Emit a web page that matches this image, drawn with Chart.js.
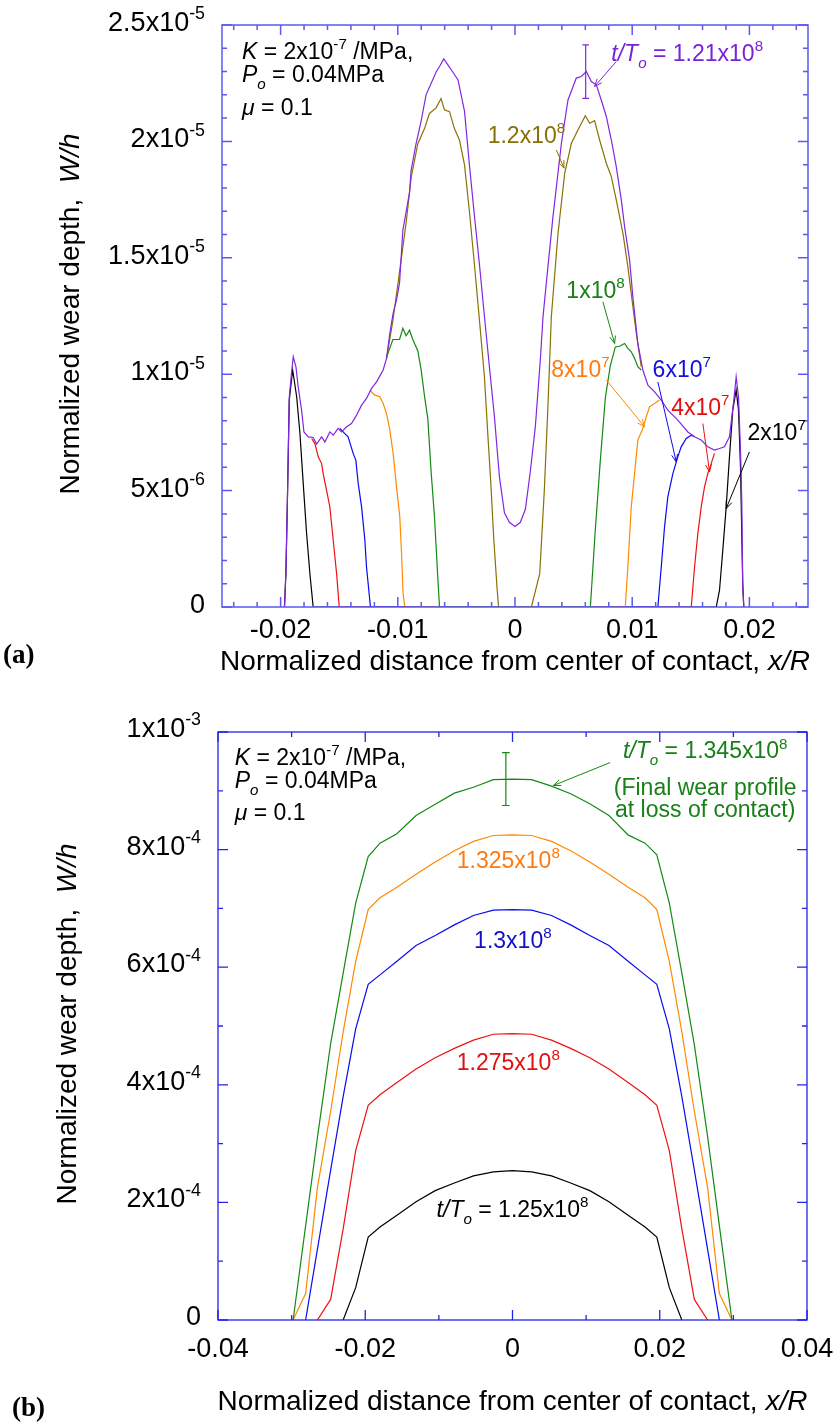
<!DOCTYPE html>
<html>
<head>
<meta charset="utf-8">
<script src="https://cdn.jsdelivr.net/npm/chart.js@4.4.1/dist/chart.umd.min.js"></script>
<style>
  html, body { margin: 0; padding: 0; background: #fff; }
  #wrap { position: relative; width: 835px; height: 1424px; }
  .box { position: absolute; left: 0; width: 835px; }
</style>
</head>
<body>
<div id="wrap">
  <div class="box" style="top:0;height:700px"><canvas id="chartA" width="835" height="700"></canvas></div>
  <div class="box" style="top:700px;height:724px"><canvas id="chartB" width="835" height="724"></canvas></div>
</div>
<script>
// ---------- panel (a): wear depth W/h (in 1e-6) vs x/R ----------
const aXTicks = [-0.02, -0.01, 0, 0.01, 0.02];
const aXTickLabels = ['-0.02', '-0.01', '0', '0.01', '0.02'];
const aYTicks = [0, 5, 10, 15, 20, 25];
const aYTickLabels = ['0', '5x10^-6', '1x10^-5', '1.5x10^-5', '2x10^-5', '2.5x10^-5'];

// t/To = 1.21e8
const aPurpleX = [-0.01967,-0.01955,-0.01943,-0.01926,-0.01906,-0.01892,-0.01869,-0.0185,-0.01821,-0.01801,-0.01764,-0.01722,-0.01693,-0.0165,-0.01622,-0.0158,-0.01551,-0.01509,-0.0148,-0.01437,-0.01395,-0.01352,-0.01309,-0.01267,-0.01224,-0.01181,-0.01125,-0.01096,-0.01068,-0.0104,-0.01011,-0.00985,-0.00957,-0.009,-0.00886,-0.00844,-0.00801,-0.00759,-0.00716,-0.00673,-0.00644,-0.00608,-0.00574,-0.00531,-0.00486,-0.00431,-0.00389,-0.00346,-0.00303,-0.00261,-0.00218,-0.00176,-0.00133,-0.0009,-0.00048,0,0.00046,0.00089,0.00131,0.00174,0.00217,0.00239,0.00281,0.00324,0.00396,0.00452,0.00523,0.00566,0.00609,0.00651,0.00694,0.00736,0.00779,0.00822,0.00864,0.00907,0.00935,0.00978,0.01006,0.01048,0.01091,0.01134,0.01191,0.01248,0.01304,0.01389,0.01475,0.01532,0.01589,0.01645,0.01702,0.01745,0.01787,0.0183,0.01867,0.01887,0.01907,0.01924,0.01935,0.01943,0.01952];
const aPurpleY = [0,1.43,4.3,9.03,10.1,10.75,10.32,9.46,8.46,7.52,7.31,7.28,7.0,7.31,7.09,7.52,7.38,7.67,7.52,7.74,7.88,8.24,8.67,8.96,9.39,9.67,10.18,10.68,11.75,12.61,13.19,13.92,16.18,17.8,18.77,19.9,20.87,22.0,22.49,22.98,23.22,23.54,23.3,22.98,22.64,21.3,19.0,16.8,14.7,12.5,10.3,8.2,5.6,4.05,3.64,3.46,3.64,4.21,5.83,7.77,10.68,12.47,14.62,16.77,19.92,21.78,22.72,22.79,23.0,22.57,22.43,21.78,21.07,20.06,18.92,17.49,16.34,14.9,13.3,11.32,10.18,9.53,9.24,8.89,8.46,8.03,7.52,7.31,7.17,6.88,6.74,6.81,6.88,7.31,8.89,9.89,9.03,6.74,4.59,1.0,0];
// t/To = 1.2e8
const aOliveX = [-0.01096,-0.01085,-0.01042,-0.00972,-0.00929,-0.00886,-0.00829,-0.00772,-0.0073,-0.00673,-0.00631,-0.00602,-0.00559,-0.00517,-0.00474,-0.00431,-0.00389,-0.00346,-0.00303,-0.00261,-0.00233,-0.00205,-0.00182,-0.00153,-0.0014,0.0014,0.00211,0.0025,0.0028,0.0031,0.00367,0.00424,0.00481,0.00537,0.006,0.00637,0.00679,0.00722,0.00779,0.00822,0.00864,0.00921,0.00963,0.01006,0.01035,0.01077];
const aOliveY = [10.68,11.0,12.3,14.89,16.5,18.45,19.9,20.55,21.2,21.44,21.84,21.36,21.28,20.55,20.06,19.0,17.0,14.7,12.3,9.9,7.5,5.2,3.0,0.8,0,0,1.43,5.0,8.5,12.47,16.05,18.63,19.92,20.49,21.1,20.78,20.89,20.06,19.06,18.49,17.49,16.05,14.62,12.9,11.75,10.32];
// t/To = 1e8
const aGreenX = [-0.01099,-0.01042,-0.00985,-0.00957,-0.00929,-0.009,-0.00872,-0.00829,-0.00801,-0.00772,-0.00744,-0.00716,-0.00687,-0.00659,-0.00644,0.00643,0.00685,0.00728,0.00771,0.00813,0.00856,0.00892,0.00935,0.00963,0.00992,0.0102,0.01048,0.01077];
const aGreenY = [10.68,11.49,11.49,11.97,11.65,11.89,11.49,11.0,10.19,9.06,8.09,5.83,3.88,1.29,0,0,3.3,6.3,9.0,10.36,11.17,11.2,11.32,11.11,10.96,10.68,10.32,10.18];
// t/To = 8e7
const aOrangeX = [-0.01239,-0.01196,-0.01153,-0.01125,-0.01096,-0.01068,-0.0104,-0.01011,-0.00983,-0.00968,-0.00955,-0.0094,0.00941,0.00963,0.00992,0.0102,0.01048,0.01091,0.0112,0.01148,0.01191,0.01233];
const aOrangeY = [9.32,9.1,9.03,8.74,8.31,7.6,6.6,5.16,3.87,2.3,0.58,0,0,1.72,4.3,5.73,7.17,7.67,8.17,8.6,8.74,8.89];
// t/To = 6e7
const aBlueX = [-0.01494,-0.01452,-0.01424,-0.01381,-0.01358,-0.01338,-0.01309,-0.01281,-0.01267,-0.01239,-0.01233,0.01219,0.01248,0.01276,0.01304,0.01347,0.01389,0.01418,0.01461,0.01504,0.01532];
const aBlueY = [7.67,7.45,7.31,6.6,6.31,5.31,4.3,2.87,1.72,0.29,0,0,1.72,3.44,4.73,5.73,6.45,6.88,7.24,7.38,7.31];
// t/To = 4e7
const aRedX = [-0.01735,-0.01707,-0.01679,-0.0165,-0.01637,-0.01608,-0.0158,-0.01551,-0.01522,-0.015,0.01504,0.01532,0.0156,0.01589,0.01617,0.01645,0.01674,0.01702];
const aRedY = [7.24,7.02,6.45,6.16,5.73,5.02,4.3,2.87,1.43,0,0,1.72,3.15,4.3,5.16,5.73,6.16,6.6];
// t/To = 2e7
const aBlackX = [-0.01967,-0.01955,-0.01943,-0.01926,-0.01897,-0.01863,-0.01835,-0.01807,-0.01778,-0.0175,-0.01722,0.01717,0.01745,0.01773,0.01802,0.0183,0.01858,0.01887,0.01907,0.01924,0.01935,0.01943,0.01952];
const aBlackY = [0,1.43,4.3,8.89,10.18,9.03,7.45,5.31,3.15,1.43,0,0,0.72,2.44,4.3,6.45,8.46,9.32,8.46,6.02,3.15,1.0,0];
// error bar on the 1.21e8 curve
const aErrX = 0.00603, aErrLow = 21.85, aErrHigh = 24.15;

// ---------- panel (b): wear depth W/h (in 1e-4) vs x/R ----------
const bXTicks = [-0.04, -0.02, 0, 0.02, 0.04];
const bXTickLabels = ['-0.04', '-0.02', '0', '0.02', '0.04'];
const bYTicks = [0, 2, 4, 6, 8, 10];
const bYTickLabels = ['0', '2x10^-4', '4x10^-4', '6x10^-4', '8x10^-4', '1x10^-3'];

const bWideX = [-0.0298,-0.0281,-0.0265,-0.0247,-0.023,-0.0213,-0.0196,-0.018,-0.0157,-0.0131,-0.0105,-0.0079,-0.0053,-0.0026,0,0.0026,0.0053,0.0079,0.0105,0.0131,0.0157,0.018,0.0196,0.0213,0.023,0.0247,0.0265,0.0281,0.0298];
const bGreenY = [0,1.6,3.1,4.7,5.9,7.09,7.88,8.11,8.27,8.58,8.77,8.96,9.06,9.19,9.2,9.19,9.08,8.95,8.78,8.58,8.25,8.11,7.91,7.09,5.9,4.68,3.12,1.6,0];
const bOrangeY = [0,0.45,2.25,3.55,4.9,6.1,6.98,7.18,7.36,7.58,7.79,7.98,8.14,8.24,8.25,8.24,8.14,7.98,7.79,7.58,7.36,7.18,6.98,6.1,4.9,3.55,2.25,0.45,0];
const bBlueX = [-0.0281,-0.0265,-0.0247,-0.023,-0.0213,-0.0196,-0.018,-0.0157,-0.0131,-0.0105,-0.0079,-0.0053,-0.0026,0,0.0026,0.0053,0.0079,0.0105,0.0131,0.0157,0.018,0.0196,0.0213,0.023,0.0247,0.0265,0.0281];
const bBlueY = [0,1.2,2.55,3.8,4.95,5.71,5.87,6.1,6.37,6.54,6.72,6.88,6.97,6.98,6.97,6.88,6.72,6.54,6.37,6.1,5.87,5.71,4.95,3.8,2.55,1.2,0];
const bRedX = [-0.0265,-0.0247,-0.023,-0.0213,-0.0196,-0.018,-0.0157,-0.0131,-0.0105,-0.0079,-0.0053,-0.0026,0,0.0026,0.0053,0.0079,0.0105,0.0131,0.0157,0.018,0.0196,0.0213,0.023,0.0247,0.0265];
const bRedY = [0,0.35,1.55,2.88,3.65,3.83,4.04,4.27,4.46,4.62,4.76,4.86,4.87,4.86,4.76,4.62,4.46,4.27,4.04,3.83,3.65,2.88,1.55,0.35,0];
const bBlackX = [-0.023,-0.0213,-0.0196,-0.018,-0.0157,-0.0131,-0.0105,-0.0079,-0.0053,-0.0026,0,0.0026,0.0053,0.0079,0.0105,0.0131,0.0157,0.018,0.0196,0.0213,0.023];
const bBlackY = [0,0.55,1.41,1.58,1.78,2.01,2.2,2.33,2.45,2.52,2.54,2.52,2.45,2.33,2.2,2.01,1.78,1.58,1.41,0.55,0];
const bErrX = -0.0009, bErrLow = 8.75, bErrHigh = 9.65;

// ---------- drawing helpers ----------
const FONT = '"Liberation Sans", Arial, Helvetica, sans-serif';
const SUP = 0.66;
function font(size, it) { return (it ? 'italic ' : '') + size + 'px ' + FONT; }
function pts(xs, ys) { return xs.map((x, i) => ({ x: x, y: ys[i] })); }
function errPts(x, lo, hi, cap) {
  return [{ x: x - cap, y: hi }, { x: x + cap, y: hi }, { x: x, y: null },
          { x: x, y: hi }, { x: x, y: lo }, { x: x, y: null },
          { x: x - cap, y: lo }, { x: x + cap, y: lo }];
}
function sci(s) {
  const i = s.indexOf('^');
  return i < 0 ? [{ t: s }] : [{ t: s.slice(0, i) }, { t: s.slice(i + 1), sup: true }];
}
function richWidth(ctx, segs, size) {
  let w = 0;
  segs.forEach(s => { ctx.font = font(s.sup || s.sub ? size * SUP : size, s.it); w += ctx.measureText(s.t).width; });
  return w;
}
function drawRich(ctx, segs, x, y, size, color, align) {
  const w = richWidth(ctx, segs, size);
  let cx = align === 'right' ? x - w : align === 'center' ? x - w / 2 : x;
  ctx.fillStyle = color;
  ctx.textAlign = 'left';
  ctx.textBaseline = 'alphabetic';
  segs.forEach(s => {
    const sz = s.sup || s.sub ? size * SUP : size;
    ctx.font = font(sz, s.it);
    const dy = s.sup ? -size * 0.43 : s.sub ? size * 0.3 : 0;
    ctx.fillText(s.t, cx, y + dy);
    cx += ctx.measureText(s.t).width;
  });
}
function arrow(ctx, x1, y1, x2, y2, color) {
  const a = Math.atan2(y2 - y1, x2 - x1), L = 8;
  ctx.strokeStyle = color; ctx.lineWidth = 1;
  ctx.beginPath();
  ctx.moveTo(x1, y1); ctx.lineTo(x2, y2);
  ctx.moveTo(x2 - L * Math.cos(a - 0.38), y2 - L * Math.sin(a - 0.38)); ctx.lineTo(x2, y2);
  ctx.lineTo(x2 - L * Math.cos(a + 0.38), y2 - L * Math.sin(a + 0.38));
  ctx.stroke();
}

// frame, inward ticks, labels, titles and notes
const decoPlugin = {
  id: 'deco',
  afterDraw(chart, args, o) {
    const ctx = chart.ctx, { left, right, top, bottom } = chart.chartArea;
    const sx = chart.scales.x, sy = chart.scales.y;
    ctx.save();
    ctx.strokeStyle = o.axisColor; ctx.lineWidth = o.axisWidth;
    ctx.strokeRect(left, top, right - left, bottom - top);
    ctx.beginPath();
    const tickX = (v, len) => { const p = sx.getPixelForValue(v); ctx.moveTo(p, bottom); ctx.lineTo(p, bottom - len); ctx.moveTo(p, top); ctx.lineTo(p, top + len); };
    const tickY = (v, len) => { const p = sy.getPixelForValue(v); ctx.moveTo(left, p); ctx.lineTo(left + len, p); ctx.moveTo(right, p); ctx.lineTo(right - len, p); };
    for (let k = Math.ceil(sx.min / o.xMinor - 1e-6); k * o.xMinor <= sx.max + 1e-9; k++) tickX(k * o.xMinor, 5);
    for (let k = Math.ceil(sy.min / o.yMinor - 1e-6); k * o.yMinor <= sy.max + 1e-9; k++) tickY(k * o.yMinor, 5);
    o.xTicks.forEach(v => tickX(v, 10));
    o.yTicks.forEach(v => tickY(v, 10));
    ctx.stroke();

    // tick labels
    o.xTicks.forEach((v, i) => drawRich(ctx, [{ t: o.xLabels[i] }], sx.getPixelForValue(v), bottom + o.xLabelDy, o.tickSize, '#000', 'center'));
    o.yTicks.forEach((v, i) => drawRich(ctx, sci(o.yLabels[i]), left - 17, sy.getPixelForValue(v) + o.yLabelDy, o.tickSize, '#000', 'right'));

    // axis titles
    drawRich(ctx, [{ t: 'Normalized distance from center of contact, ' }, { t: 'x/R', it: true }],
      (left + right) / 2, o.xTitleY, o.titleSize, '#000', 'center');
    ctx.save();
    ctx.translate(o.yTitleX, (top + bottom) / 2 - 2);
    ctx.rotate(-Math.PI / 2);
    drawRich(ctx, [{ t: 'Normalized wear depth,  ' }, { t: 'W/h', it: true }], 0, 0, o.titleSize, '#000', 'center');
    ctx.restore();

    // panel letter
    ctx.fillStyle = '#000';
    ctx.font = 'bold 27px "Liberation Serif", "Times New Roman", serif';
    ctx.textAlign = 'left';
    ctx.fillText(o.letter, o.letterX, o.letterY);

    // notes and arrows
    o.notes.forEach(n => drawRich(ctx, n.segs, sx.getPixelForValue(n.x), sy.getPixelForValue(n.y), 23, n.color, n.align || 'left'));
    o.arrows.forEach(a => arrow(ctx, sx.getPixelForValue(a[0]), sy.getPixelForValue(a[1]),
      sx.getPixelForValue(a[2]), sy.getPixelForValue(a[3]), a[4]));
    ctx.restore();
  }
};

function line(data, color, width) {
  return { data: data, borderColor: color, borderWidth: width || 1.2, showLine: true, pointRadius: 0, tension: 0, fill: false };
}

const materialNote = (x, y1, y2, y3) => [
  { x: x, y: y1, color: '#000', segs: [{ t: 'K', it: true }, { t: ' = 2x10' }, { t: '-7', sup: true }, { t: ' /MPa,' }] },
  { x: x, y: y2, color: '#000', segs: [{ t: 'P', it: true }, { t: 'o', it: true, sub: true }, { t: ' = 0.04MPa' }] },
  { x: x, y: y3, color: '#000', segs: [{ t: 'μ', it: true }, { t: ' = 0.1' }] }
];

const C = {
  purple: '#8226e0', olive: '#8a7205', green: '#138a13', orange: '#ff8a00',
  blue: '#0a0af0', red: '#ee1111', black: '#000000'
};

new Chart(document.getElementById('chartA'), {
  type: 'scatter',
  data: {
    datasets: [
      line(pts(aPurpleX, aPurpleY), C.purple),
      line(errPts(aErrX, aErrLow, aErrHigh, 0.00028), C.purple),
      line(pts(aOliveX, aOliveY), C.olive),
      line(pts(aGreenX, aGreenY), C.green),
      line(pts(aOrangeX, aOrangeY), C.orange),
      line(pts(aBlueX, aBlueY), C.blue),
      line(pts(aRedX, aRedY), C.red),
      line(pts(aBlackX, aBlackY), C.black)
    ]
  },
  options: {
    responsive: false, animation: false, events: [],
    layout: { padding: { left: 222, right: 27, top: 25, bottom: 93 } },
    plugins: {
      legend: { display: false }, tooltip: { enabled: false },
      deco: {
        axisColor: '#5a5af2', axisWidth: 1.5,
        xTicks: aXTicks, xLabels: aXTickLabels, yTicks: aYTicks, yLabels: aYTickLabels,
        xMinor: 0.002, yMinor: 1,
        tickSize: 27, titleSize: 28, xLabelDy: 31, yLabelDy: 6,
        xTitleY: 670, yTitleX: 79,
        letter: '(a)', letterX: 3, letterY: 663,
        notes: materialNote(-0.0233, 23.55, 22.56, 21.14).concat([
          { x: 0.00822, y: 23.47, color: '#7a22d8', segs: [{ t: 't/T', it: true }, { t: 'o', it: true, sub: true }, { t: ' = 1.21x10' }, { t: '8', sup: true }] },
          { x: -0.00233, y: 19.93, color: '#86700a', segs: sci('1.2x10^8') },
          { x: 0.00438, y: 13.27, color: '#168216', segs: sci('1x10^8') },
          { x: 0.0031, y: 9.88, color: '#ff7a10', segs: sci('8x10^7') },
          { x: 0.01174, y: 9.88, color: '#1010e0', segs: sci('6x10^7') },
          { x: 0.01333, y: 8.25, color: '#e01010', segs: sci('4x10^7') },
          { x: 0.01984, y: 7.17, color: '#000', segs: sci('2x10^7') }
        ]),
        arrows: [
          [0.00864, 23.43, 0.00679, 22.36, C.purple],
          [0.00353, 19.63, 0.00418, 18.85, C.olive],
          [0.0075, 13.11, 0.0085, 11.32, C.green],
          [0.00779, 9.75, 0.01106, 7.74, C.orange],
          [0.01219, 9.67, 0.01376, 6.23, C.blue],
          [0.01603, 7.88, 0.0166, 5.80, C.red],
          [0.02, 6.66, 0.01802, 4.23, C.black]
        ]
      }
    },
    scales: {
      x: { type: 'linear', min: -0.025, max: 0.025, display: false },
      y: { type: 'linear', min: 0, max: 25, display: false }
    }
  },
  plugins: [decoPlugin]
});

new Chart(document.getElementById('chartB'), {
  type: 'scatter',
  data: {
    datasets: [
      line(pts(bWideX, bGreenY), C.green),
      line(errPts(bErrX, bErrLow, bErrHigh, 0.00052), C.green),
      line(pts(bWideX, bOrangeY), C.orange),
      line(pts(bBlueX, bBlueY), C.blue),
      line(pts(bRedX, bRedY), C.red),
      line(pts(bBlackX, bBlackY), C.black)
    ]
  },
  options: {
    responsive: false, animation: false, events: [],
    layout: { padding: { left: 218, right: 28, top: 32, bottom: 104 } },
    plugins: {
      legend: { display: false }, tooltip: { enabled: false },
      deco: {
        axisColor: '#2222ee', axisWidth: 1.3,
        xTicks: bXTicks, xLabels: bXTickLabels, yTicks: bYTicks, yLabels: bYTickLabels,
        xMinor: 0.01, yMinor: 1,
        tickSize: 27, titleSize: 28, xLabelDy: 37, yLabelDy: 5,
        xTitleY: 710, yTitleX: 76,
        letter: '(b)', letterX: 12, letterY: 716,
        notes: materialNote(-0.03773, 9.44, 9.05, 8.51).concat([
          { x: 0.02617, y: 9.55, color: '#178017', align: 'center', segs: [{ t: 't/T', it: true }, { t: 'o', it: true, sub: true }, { t: ' = 1.345x10' }, { t: '8', sup: true }] },
          { x: 0.02617, y: 8.93, color: '#178017', align: 'center', segs: [{ t: '(Final wear profile' }] },
          { x: 0.02617, y: 8.56, color: '#178017', align: 'center', segs: [{ t: 'at loss of contact)' }] },
          { x: -0.00057, y: 7.69, color: '#ff7a10', align: 'center', segs: sci('1.325x10^8') },
          { x: 0.00005, y: 6.33, color: '#1010c8', align: 'center', segs: sci('1.3x10^8') },
          { x: -0.00057, y: 4.25, color: '#e01010', align: 'center', segs: sci('1.275x10^8') },
          { x: 0, y: 1.75, color: '#000', align: 'center', segs: [{ t: 't/T', it: true }, { t: 'o', it: true, sub: true }, { t: ' = 1.25x10' }, { t: '8', sup: true }] }
        ]),
        arrows: [
          [0.01326, 9.48, 0.00555, 9.09, C.green]
        ]
      }
    },
    scales: {
      x: { type: 'linear', min: -0.04, max: 0.04, display: false },
      y: { type: 'linear', min: 0, max: 10, display: false }
    }
  },
  plugins: [decoPlugin]
});
</script>
</body>
</html>
